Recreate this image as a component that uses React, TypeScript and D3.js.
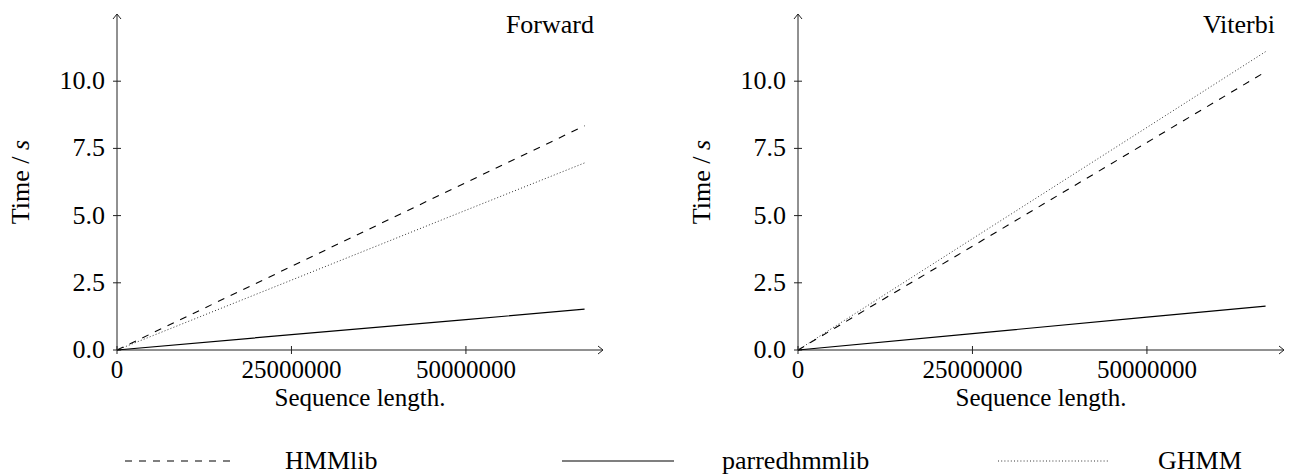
import React from "react";
import * as d3 from "d3";

const xLengths = [0, 25000000, 50000000, 67000000];
const forwardHMMlib = [0, 3.11, 6.23, 8.34];
const forwardParred = [0, 0.57, 1.13, 1.52];
const forwardGHMM = [0, 2.6, 5.2, 6.96];
const viterbiHMMlib = [0, 3.86, 7.72, 10.35];
const viterbiParred = [0, 0.61, 1.22, 1.63];
const viterbiGHMM = [0, 4.14, 8.28, 11.1];
const yTicks = [0, 2.5, 5, 7.5, 10];
const xTicks = [0, 25000000, 50000000];
const panelTitles = ["Forward", "Viterbi"];
const legendLabels = ["HMMlib", "parredhmmlib", "GHMM"];

const FONT = "'Liberation Serif', 'Times New Roman', serif";
const FS = 26;
const TFS = 25;

const styles = [
  { dash: "7,7", color: "#000", width: 1.1 },
  { dash: "", color: "#000", width: 1.2 },
  { dash: "1,2.2", color: "#333", width: 1 },
];

function Panel({ ox, title, series }: { ox: number; title: string; series: number[][] }) {
  const x = d3.scaleLinear().domain([0, 69640000]).range([117, 603]);
  const y = d3.scaleLinear().domain([0, 12.5]).range([350, 14]);
  const line = d3
    .line<number>()
    .x((_, i) => x(xLengths[i]))
    .y((d) => y(d));
  const x0 = x(0);
  const y0 = y(0);
  const xEnd = x.range()[1];
  const yTop = y.range()[1];
  return (
    <g transform={`translate(${ox},0)`}>
      <line x1={x0} y1={y0} x2={xEnd} y2={y0} stroke="#222" strokeWidth={1} />
      <line x1={x0} y1={y0} x2={x0} y2={yTop} stroke="#222" strokeWidth={1} />
      <path d={`M${xEnd - 5},${y0 - 4} L${xEnd},${y0} L${xEnd - 5},${y0 + 4}`} fill="none" stroke="#222" strokeWidth={1} />
      <path d={`M${x0 - 4},${yTop + 5} L${x0},${yTop} L${x0 + 4},${yTop + 5}`} fill="none" stroke="#222" strokeWidth={1} />
      {yTicks.map((t) => (
        <g key={"y" + t}>
          <line x1={x0 - 4} x2={x0 + 4} y1={y(t)} y2={y(t)} stroke="#222" strokeWidth={1} />
          <text x={x0 - 12} y={y(t) + 8} textAnchor="end" fontFamily={FONT} fontSize={FS}>
            {d3.format(".1f")(t)}
          </text>
        </g>
      ))}
      {xTicks.map((t) => (
        <g key={"x" + t}>
          <line x1={x(t)} x2={x(t)} y1={y0 - 4} y2={y0 + 4} stroke="#222" strokeWidth={1} />
          <text x={x(t)} y={378} textAnchor="middle" fontFamily={FONT} fontSize={TFS}>
            {String(t)}
          </text>
        </g>
      ))}
      <text x={(x0 + xEnd) / 2} y={406} textAnchor="middle" fontFamily={FONT} fontSize={TFS}>
        Sequence length.
      </text>
      <text
        transform={`translate(29,${(y0 + yTop) / 2}) rotate(-90)`}
        textAnchor="middle"
        fontFamily={FONT}
        fontSize={FS}
      >
        Time / <tspan fontStyle="italic">s</tspan>
      </text>
      <text x={594} y={33} textAnchor="end" fontFamily={FONT} fontSize={FS}>
        {title}
      </text>
      {series.map((s, i) => (
        <path
          key={i}
          d={line(s) || ""}
          fill="none"
          stroke={styles[i].color}
          strokeWidth={styles[i].width}
          strokeDasharray={styles[i].dash || undefined}
        />
      ))}
    </g>
  );
}

export default function App() {
  const legendX = [125, 562, 998];
  const legendTextX = [285, 722, 1158];
  return (
    <svg
      width={1292}
      height={476}
      style={{ position: "absolute", left: 0, top: 0, background: "#fff" }}
    >
      <rect width={1292} height={476} fill="#fff" />
      <Panel ox={0} title={panelTitles[0]} series={[forwardHMMlib, forwardParred, forwardGHMM]} />
      <Panel ox={681} title={panelTitles[1]} series={[viterbiHMMlib, viterbiParred, viterbiGHMM]} />
      {legendLabels.map((lab, i) => (
        <g key={lab}>
          <line
            x1={legendX[i]}
            x2={legendX[i] + 112}
            y1={461}
            y2={461}
            stroke={styles[i].color}
            strokeWidth={styles[i].width}
            strokeDasharray={styles[i].dash || undefined}
          />
          <text x={legendTextX[i]} y={469} fontFamily={FONT} fontSize={FS}>
            {lab}
          </text>
        </g>
      ))}
    </svg>
  );
}
